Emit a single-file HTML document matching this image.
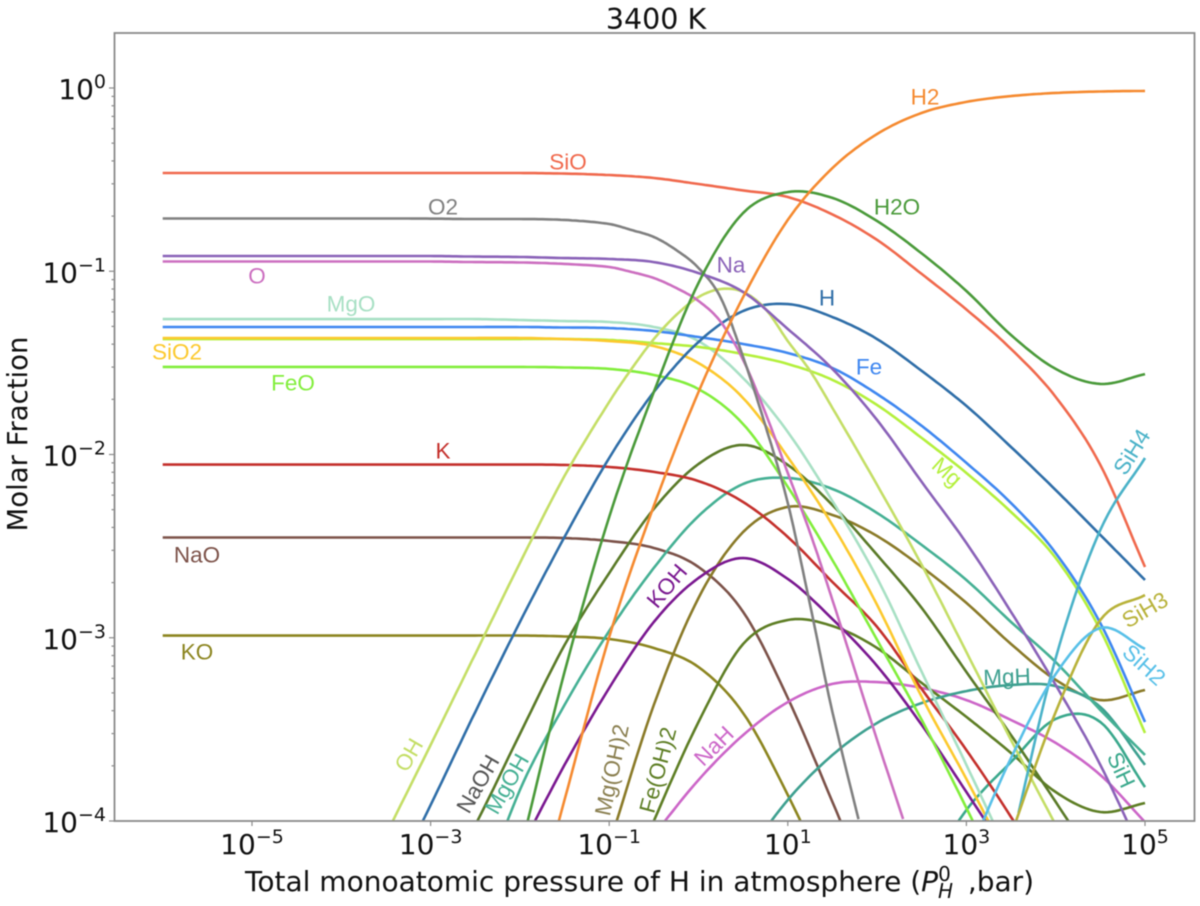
<!DOCTYPE html>
<html lang="en">
<head>
<meta charset="utf-8">
<title>3400 K Molar Fraction</title>
<style>
html,body{margin:0;padding:0;background:#fff;width:1200px;height:906px;overflow:hidden}
svg{display:block;filter:blur(0.4px)}
.tick-text{font-family:"DejaVu Sans",sans-serif;font-size:28px;fill:#111}
.axis-text{font-family:"DejaVu Sans",sans-serif;font-size:28px;fill:#111}
.lbl{font-family:"Liberation Sans",sans-serif;font-size:22.5px;text-anchor:middle;dominant-baseline:central}
</style>
</head>
<body>
<svg id="chart" width="1200" height="906" viewBox="0 0 1200 906" xmlns="http://www.w3.org/2000/svg">
  <defs><clipPath id="plot-clip"><rect x="114.5" y="33" width="1080" height="788"/></clipPath></defs>
  <text class="axis-text" x="656" y="29" text-anchor="middle" style="font-size:28.5px">3400 K</text>
  <g id="series-layer" clip-path="url(#plot-clip)"></g>
  <rect x="114.5" y="33" width="1080" height="788" fill="none" stroke="#8a8a8a" stroke-width="1.8"/>
  <g id="tick-layer"></g>
  <text class="axis-text" transform="translate(27,434) rotate(-90)" text-anchor="middle" style="font-size:27.5px">Molar Fraction</text>
  <text class="axis-text" x="245" y="891">Total monoatomic pressure of H in atmosphere (<tspan font-style="italic">P</tspan><tspan font-style="italic" font-size="20" dy="7">H</tspan><tspan font-size="20" dx="-15" dy="-17">0</tspan><tspan dx="17" dy="10">,bar)</tspan></text>

  <g>
    <text class="lbl" x="568" y="162" fill="#f0694d">SiO</text>
    <text class="lbl" x="443" y="207" fill="#808080">O2</text>
    <text class="lbl" x="731" y="265" fill="#8a62b8">Na</text>
    <text class="lbl" x="257" y="276" fill="#cc6fc0">O</text>
    <text class="lbl" x="351" y="304" fill="#a8e0c4">MgO</text>
    <text class="lbl" x="177" y="352" fill="#fcc92e">SiO2</text>
    <text class="lbl" x="293" y="383" fill="#82ee3c">FeO</text>
    <text class="lbl" x="443" y="451" fill="#c4302c">K</text>
    <text class="lbl" x="197" y="555" fill="#7c5249">NaO</text>
    <text class="lbl" x="197" y="652" fill="#8c8520">KO</text>
    <text class="lbl" x="925" y="97" fill="#f58a30">H2</text>
    <text class="lbl" x="897" y="207" fill="#4a9a3a">H2O</text>
    <text class="lbl" x="827" y="298" fill="#2f6ea8">H</text>
    <text class="lbl" x="869" y="367" fill="#3f87f0">Fe</text>
    <text class="lbl" transform="translate(947,472) rotate(42)" fill="#b4f03c">Mg</text>
    <text class="lbl" transform="translate(1132,452) rotate(-58)" fill="#4ab2c8">SiH4</text>
    <text class="lbl" transform="translate(1145,610) rotate(-30)" fill="#b8b23a">SiH3</text>
    <text class="lbl" transform="translate(1144,665) rotate(42)" fill="#58c0e8">SiH2</text>
    <text class="lbl" transform="translate(1007,677) rotate(-2)" fill="#3ea090">MgH</text>
    <text class="lbl" transform="translate(1121,770) rotate(65)" fill="#3aa88c">SiH</text>
    <text class="lbl" transform="translate(409,755) rotate(-60)" fill="#c4de66">OH</text>
    <text class="lbl" transform="translate(478,784) rotate(-60)" fill="#555555">NaOH</text>
    <text class="lbl" transform="translate(507,784) rotate(-60)" fill="#45b094">MgOH</text>
    <text class="lbl" transform="translate(667,586) rotate(-50)" fill="#7a1890">KOH</text>
    <text class="lbl" transform="translate(612,770) rotate(-78)" fill="#8a7f50">Mg(OH)2</text>
    <text class="lbl" transform="translate(658,770) rotate(-75)" fill="#5e7e25">Fe(OH)2</text>
    <text class="lbl" transform="translate(714,746) rotate(-45)" fill="#cc66c8">NaH</text>
  </g>
</svg>
<script>
// log10 of total monoatomic H pressure (bar) at which each series is sampled
const logPressure = [-6,-5,-4,-3.5,-3,-2.5,-2,-1.5,-1,-0.5,0,0.5,1,1.5,2,2.5,3,3.5,4,4.5,5];
// finer pressure samples for the curves that bend sharply
const logPressureFine = [-6,-5,-4,-3.5,-3,-2.5,-2,-1.5,-1,-0.75,-0.5,-0.25,0,0.25,0.5,0.75,1,1.25,1.5,2,2.5,3,3.5,4,4.5,5];
const N = null;
// log10 of molar fraction, one array per species
const logKO = [-2.988,-2.988,-2.988,-2.988,-2.988,-2.988,-2.988,-2.993,-3.007,-3.056,-3.160,-3.411,-3.858,-4.376];
const logNaO = [-2.453,-2.453,-2.453,-2.453,-2.453,-2.453,-2.453,-2.456,-2.472,-2.510,-2.614,-2.859,-3.329,-3.896,-4.486];
const logNaH = [N,N,N,N,N,N,N,N,N,-4.076,-3.776,-3.531,-3.351,-3.252,-3.242,-3.274,-3.340,-3.449,-3.574,-3.749,-4.006];
const logFeOH2 = [N,N,N,N,N,N,N,N,-4.595,-4.000,-3.460,-3.034,-2.903,-2.936,-3.056,-3.247,-3.432,-3.629,-3.842,-3.951,-3.902];
const logMgOH2 = [N,N,N,N,N,N,N,N,-4.131,-3.367,-2.783,-2.423,-2.286,-2.330,-2.445,-2.614,-2.810,-3.034,-3.230,-3.340,-3.285];
const logMgH = [N,N,N,N,N,N,N,N,N,N,N,-4.213,-3.885,-3.640,-3.465,-3.356,-3.291,-3.258,-3.264,-3.378,-3.694];
const logSiH = [N,N,N,N,N,N,N,N,N,N,N,N,N,N,N,-4.322,-3.940,-3.678,-3.443,-3.460,-3.815];
const logMgOH = [N,N,N,N,N,-4.486,-3.831,-3.367,-2.963,-2.619,-2.336,-2.161,-2.128,-2.188,-2.319,-2.494,-2.685,-2.914,-3.133,-3.394,-3.640];
const logNaOH = [N,N,N,N,-4.458,-4.022,-3.525,-3.040,-2.647,-2.297,-2.052,-1.948,-2.057,-2.276,-2.548,-2.838,-3.187,-3.531,-3.896,-4.267];
const logKOH = [N,N,N,N,N,N,-4.158,-3.694,-3.274,-2.914,-2.674,-2.565,-2.679,-2.898,-3.154,-3.476,-3.842,-4.213];
const logK = [-2.055,-2.055,-2.055,-2.055,-2.055,-2.055,-2.055,-2.057,-2.068,-2.095,-2.145,-2.259,-2.450,-2.696,-2.941,-3.280,-3.613,-3.978,-4.376];
const logOH = [N,N,-4.578,-4.076,-3.585,-3.089,-2.592,-2.117,-1.713,-1.533,-1.370,-1.239,-1.141,-1.097,-1.113,-1.206,-1.381,-1.544,-1.746,-2.166,-2.603,-3.078,-3.558,-4.022];
const logH = [N,N,N,-4.404,-3.913,-3.405,-2.914,-2.450,-2.019,-1.659,-1.386,-1.217,-1.179,-1.250,-1.370,-1.544,-1.735,-1.959,-2.194,-2.439,-2.685];
const logFeO = [-1.522,-1.522,-1.522,-1.522,-1.522,-1.522,-1.522,-1.525,-1.533,-1.566,-1.643,-1.834,-2.177,-2.576,-3.012,-3.449,-3.929,-4.431];
const logMgO = [-1.261,-1.261,-1.261,-1.261,-1.261,-1.261,-1.266,-1.272,-1.277,-1.304,-1.381,-1.583,-1.877,-2.254,-2.674,-3.187,-3.694,-4.213];
const logMg = [-1.370,-1.370,-1.370,-1.370,-1.370,-1.370,-1.370,-1.370,-1.375,-1.392,-1.413,-1.452,-1.506,-1.593,-1.730,-1.910,-2.101,-2.314,-2.565,-2.958,-3.520];
const logFe = [-1.304,-1.304,-1.304,-1.304,-1.304,-1.304,-1.304,-1.307,-1.310,-1.326,-1.359,-1.397,-1.446,-1.528,-1.670,-1.844,-2.046,-2.265,-2.538,-2.920,-3.460];
const logSiO2 = [-1.364,-1.364,-1.364,-1.364,-1.364,-1.364,-1.364,-1.370,-1.381,-1.408,-1.501,-1.692,-2.014,-2.385,-2.821,-3.323,-3.771,-4.240];
const logO = [-0.947,-0.947,-0.947,-0.947,-0.947,-0.950,-0.952,-0.960,-0.977,-1.004,-1.037,-1.091,-1.162,-1.277,-1.484,-1.774,-2.101,-2.428,-2.794,-3.558,-4.295];
const logNa = [-0.917,-0.917,-0.917,-0.917,-0.917,-0.920,-0.922,-0.928,-0.933,-0.950,-1.010,-1.113,-1.315,-1.533,-1.812,-2.150,-2.483,-2.859,-3.258,-3.694,-4.213];
const logO2 = [-0.712,-0.712,-0.712,-0.712,-0.713,-0.715,-0.715,-0.720,-0.742,-0.775,-0.813,-0.884,-0.982,-1.146,-1.468,-1.844,-2.265,-2.821,-3.405,-4.398];
const logSiO = [-0.464,-0.464,-0.464,-0.464,-0.464,-0.464,-0.464,-0.467,-0.475,-0.491,-0.524,-0.559,-0.595,-0.690,-0.829,-1.015,-1.209,-1.424,-1.686,-2.057,-2.614];
const logH2O = [N,N,N,N,N,N,-4.175,-3.187,-2.341,-1.659,-1.064,-0.682,-0.568,-0.600,-0.726,-0.903,-1.108,-1.348,-1.533,-1.615,-1.561];
const logH2 = [N,N,N,N,N,N,-4.800,-3.885,-2.996,-2.281,-1.659,-1.141,-0.720,-0.437,-0.251,-0.136,-0.076,-0.044,-0.027,-0.019,-0.016];
const logSiH4 = [N,N,N,N,N,N,N,N,N,N,N,N,N,N,N,N,-5.160,-4.131,-3.111,-2.412,-2.019];
const logSiH3 = [N,N,N,N,N,N,N,N,N,N,N,N,N,N,N,N,-4.759,-4.076,-3.405,-2.903,-2.767];
const logSiH2 = [N,N,N,N,N,N,N,N,N,N,N,N,N,N,N,N,-4.213,-3.656,-3.198,-2.947,-3.061];
// tick labels (decade exponents)
const xTickExponents = [-5,-3,-1,1,3,5];
const yTickExponents = [0,-1,-2,-3,-4];
const yMinorDecades = [0,-1,-2,-3,-4];
const yMinorMultipliers = [2,3,4,5,6,7,8,9];

function xScale(logP){ return 252 + 89.3 * (logP + 5); }
function yScale(logF){ return 88 - 183.25 * logF; }

const NS = 'http://www.w3.org/2000/svg';
const seriesLayer = document.getElementById('series-layer');
const tickLayer = document.getElementById('tick-layer');
const Y_CUTOFF = yScale(-4) + 8;

function splinePath(values, grid){
  const pts = [];
  values.forEach(function(v, i){
    if (v !== null && v !== undefined) pts.push([xScale(grid[i]), yScale(v)]);
  });
  const slope = pts.map(function(p, i){
    const a = pts[Math.max(i - 1, 0)], b = pts[Math.min(i + 1, pts.length - 1)];
    return (b[1] - a[1]) / (b[0] - a[0]);
  });
  let d = '';
  let penDown = false;
  function visit(x, y){
    if (y > Y_CUTOFF){ penDown = false; return; }
    d += (penDown ? 'L' : 'M') + x.toFixed(1) + ' ' + y.toFixed(1);
    penDown = true;
  }
  visit(pts[0][0], pts[0][1]);
  for (let i = 0; i < pts.length - 1; i++){
    const w = pts[i + 1][0] - pts[i][0];
    for (let k = 1; k <= 12; k++){
      const t = k / 12, t2 = t * t, t3 = t2 * t;
      const y = (2*t3 - 3*t2 + 1) * pts[i][1] + (t3 - 2*t2 + t) * w * slope[i] +
                (-2*t3 + 3*t2) * pts[i + 1][1] + (t3 - t2) * w * slope[i + 1];
      visit(pts[i][0] + t * w, y);
    }
  }
  return d;
}

function drawSeries(name, values, color, grid){
  const path = document.createElementNS(NS, 'path');
  path.setAttribute('d', splinePath(values, grid || logPressure));
  path.setAttribute('fill', 'none');
  path.setAttribute('stroke', color);
  path.setAttribute('stroke-width', '2.6');
  path.setAttribute('stroke-linejoin', 'round');
  
  
  seriesLayer.appendChild(path);
}

drawSeries('ko', logKO, '#8c8520');
drawSeries('nao', logNaO, '#7c5249');
drawSeries('nah', logNaH, '#cc66c8');
drawSeries('fe-oh-2', logFeOH2, '#5e7e25');
drawSeries('mg-oh-2', logMgOH2, '#8a7a28');
drawSeries('mgh', logMgH, '#3ea090');
drawSeries('sih', logSiH, '#3aa88c');
drawSeries('mgoh', logMgOH, '#45b094');
drawSeries('naoh', logNaOH, '#5a7a28');
drawSeries('koh', logKOH, '#7a1890');
drawSeries('k', logK, '#c4302c');
drawSeries('feo', logFeO, '#82ee3c');
drawSeries('mgo', logMgO, '#a8e0c4');
drawSeries('mg', logMg, '#b4f03c');
drawSeries('sio2', logSiO2, '#fcc92e');
drawSeries('fe', logFe, '#3f87f0');
drawSeries('h', logH, '#2f6ea8');
drawSeries('oh', logOH, '#c4de66', logPressureFine);
drawSeries('o', logO, '#cc6fc0', logPressureFine);
drawSeries('o2', logO2, '#808080', logPressureFine);
drawSeries('na', logNa, '#8a62b8');
drawSeries('sio', logSiO, '#f0694d');
drawSeries('h2o', logH2O, '#4a9a3a');
drawSeries('h2', logH2, '#f58a30');
drawSeries('sih4', logSiH4, '#4ab2c8');
drawSeries('sih3', logSiH3, '#b8b23a');
drawSeries('sih2', logSiH2, '#58c0e8');

function drawTick(x1, y1, x2, y2, name){
  const t = document.createElementNS(NS, 'line');
  t.setAttribute('x1', x1);
  t.setAttribute('y1', y1);
  t.setAttribute('x2', x2);
  t.setAttribute('y2', y2);
  t.setAttribute('stroke', '#8a8a8a');
  t.setAttribute('stroke-width', '1.2');
  
  
  tickLayer.appendChild(t);
}

function tickLabel(x, y, anchor, exponent, name){
  const t = document.createElementNS(NS, 'text');
  t.setAttribute('class', 'tick-text');
  t.setAttribute('x', x);
  t.setAttribute('y', y);
  t.setAttribute('text-anchor', anchor);
  
  
  const base = document.createElementNS(NS, 'tspan');
  base.textContent = '10';
  const sup = document.createElementNS(NS, 'tspan');
  sup.setAttribute('font-size', '19');
  sup.setAttribute('dy', '-11');
  sup.textContent = String(exponent).replace('-', '\u2212');
  t.appendChild(base);
  t.appendChild(sup);
  tickLayer.appendChild(t);
}

xTickExponents.forEach(function(e){
  const x = xScale(e);
  drawTick(x, 821, x, 826, 'x-tick');
  tickLabel(x, 854, 'middle', e, 'x-tick-label');
});
yTickExponents.forEach(function(e){
  const y = yScale(e);
  drawTick(109, y, 114.5, y, 'y-tick');
  tickLabel(106, y + 11, 'end', e, 'y-tick-label');
});
yMinorDecades.forEach(function(e){
  yMinorMultipliers.forEach(function(m){
    const y = yScale(e + Math.log10(m));
    if (y > 33) drawTick(111.5, y, 114.5, y, 'y-minor-tick');
  });
});
</script>
</body>
</html>
